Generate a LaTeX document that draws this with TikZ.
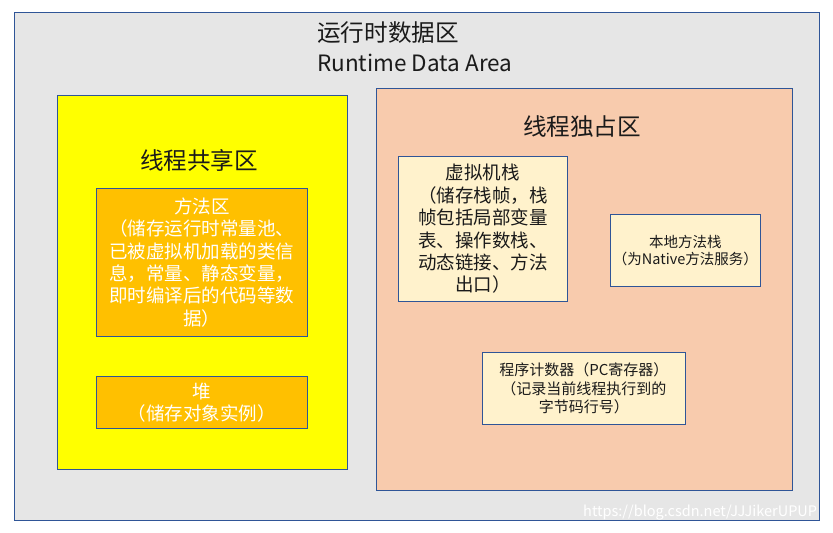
\documentclass[tikz,border=0pt]{standalone}
\usepackage{fontspec}
\setmainfont{Noto Sans CJK SC}
\definecolor{bordblue}{HTML}{2F5597}
\definecolor{outerfill}{HTML}{E6E6E6}
\definecolor{yel}{HTML}{FFFF00}
\definecolor{amber}{HTML}{FFC000}
\definecolor{peach}{HTML}{F8CBAD}
\definecolor{cream}{HTML}{FFF2CC}
\definecolor{txt}{HTML}{1A1A1A}
\begin{document}
\begin{tikzpicture}[x=1pt,y=-1pt,
  region/.style={draw=bordblue,line width=0.9pt},
  bigtitle/.style={font=\fontsize{23.6}{27}\selectfont,text=txt,inner sep=0pt},
  midbox/.style={draw=bordblue,line width=0.9pt,align=center,inner sep=0pt,font=\fontsize{18.5}{22.4}\selectfont},
  smallbox/.style={draw=bordblue,line width=0.9pt,align=center,inner sep=0pt,fill=cream,text=txt}
]
\useasboundingbox[fill=white] (0,0) rectangle (833,533);
% outer region
\node[region,fill=outerfill,minimum width=805pt,minimum height=508pt,inner sep=0pt,anchor=north west] (outer) at (14,12) {};
\node[bigtitle,anchor=west] (t1) at (317,33) {运行时数据区};
\node[bigtitle,font=\fontsize{22.5}{27}\selectfont,anchor=west] (t2) at (317,63) {Runtime Data Area};
% shared region
\node[region,fill=yel,minimum width=290pt,minimum height=374pt,inner sep=0pt,anchor=north west] (shared) at (57,95) {};
\node[bigtitle] (sharedT) at (199,160) {线程共享区};
\node[midbox,fill=amber,text=white,minimum width=211pt,minimum height=148pt,anchor=north west] (method) at (96,188)
  {方法区\\（储存运行时常量池、\\已被虚拟机加载的类信\\息，常量、静态变量，\\即时编译后的代码等数\\据）};
\node[midbox,fill=amber,text=white,minimum width=211pt,minimum height=52pt,anchor=north west] (heap) at (96,376)
  {堆\\（储存对象实例）};
% private region
\node[region,fill=peach,minimum width=416pt,minimum height=402pt,inner sep=0pt,anchor=north west] (private) at (376,88) {};
\node[bigtitle] (privateT) at (582,126) {线程独占区};
\node[midbox,fill=cream,text=txt,minimum width=169pt,minimum height=145pt,anchor=north west] (vmstack) at (398,156)
  {虚拟机栈\\（储存栈帧，栈\\帧包括局部变量\\表、操作数栈、\\动态链接、方法\\出口）};
\node[smallbox,font=\fontsize{14.5}{17}\selectfont,minimum width=150pt,minimum height=72pt,anchor=north west] (native) at (610,214)
  {本地方法栈\\（为Native方法服务）};
\node[smallbox,font=\fontsize{15}{18.5}\selectfont,minimum width=203pt,minimum height=72pt,anchor=north west] (pc) at (482,352)
  {程序计数器（PC寄存器）\\（记录当前线程执行到的\\字节码行号）};
% watermark
\node[font=\fontsize{14.5}{17}\selectfont,text=white,anchor=west,inner sep=0pt] (wm) at (583,513) {https://blog.csdn.net/JJJikerUPUP};
\end{tikzpicture}
\end{document}
